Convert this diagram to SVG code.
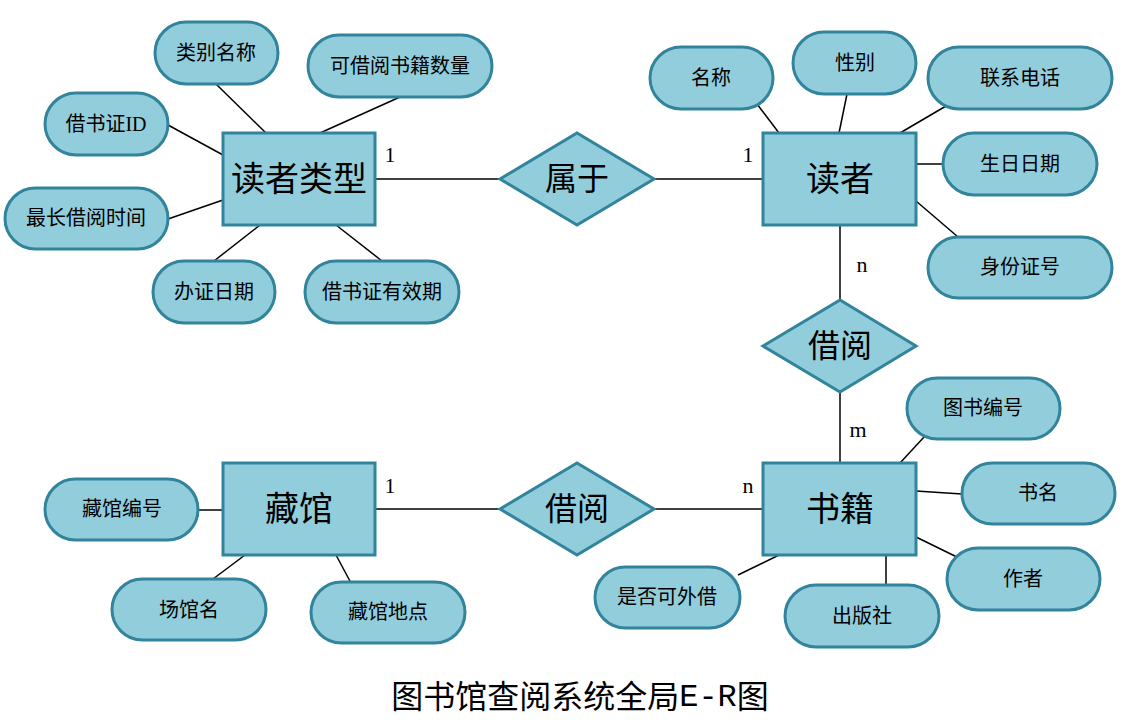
<svg xmlns="http://www.w3.org/2000/svg" width="1139" height="720" viewBox="0 0 1139 720">
<style>
.ent{fill:#92CDDC;stroke:#31849B;stroke-width:3}
.rel{fill:#92CDDC;stroke:#31849B;stroke-width:3}
.att{fill:#92CDDC;stroke:#31849B;stroke-width:3}
.ln{stroke:#000;stroke-width:1.5;fill:none}
text{font-family:"Liberation Serif","Noto Sans CJK SC",serif;fill:#000;text-anchor:middle;dominant-baseline:central}
.t-ent{font-size:34px}
.t-rel{font-size:32px}
.t-att{font-size:20px}
.t-card{font-size:22px}
.t-title{font-size:32px}
.mono{font-family:"Liberation Mono","Noto Sans CJK SC",monospace}
</style>
<rect width="1139" height="720" fill="#fff"/>
<g id="connectors">
<line class="ln" x1="375" y1="179" x2="500" y2="179"/>
<line class="ln" x1="654" y1="179" x2="763" y2="179"/>
<line class="ln" x1="840" y1="225" x2="840" y2="300"/>
<line class="ln" x1="840" y1="392" x2="840" y2="463"/>
<line class="ln" x1="375" y1="509" x2="500" y2="509"/>
<line class="ln" x1="654" y1="509" x2="763" y2="509"/>
<line class="ln" x1="216" y1="84" x2="266" y2="133"/>
<line class="ln" x1="400" y1="97" x2="320" y2="133"/>
<line class="ln" x1="168" y1="125" x2="223" y2="155"/>
<line class="ln" x1="168" y1="219" x2="223" y2="200"/>
<line class="ln" x1="214" y1="261" x2="260" y2="225"/>
<line class="ln" x1="382" y1="261" x2="336" y2="225"/>
<line class="ln" x1="757" y1="104" x2="779" y2="133"/>
<line class="ln" x1="847" y1="94" x2="839" y2="133"/>
<line class="ln" x1="946" y1="106" x2="900" y2="133"/>
<line class="ln" x1="943" y1="164" x2="916" y2="164"/>
<line class="ln" x1="958" y1="237" x2="916" y2="201"/>
<line class="ln" x1="198" y1="510" x2="223" y2="510"/>
<line class="ln" x1="213" y1="579" x2="245" y2="555"/>
<line class="ln" x1="351" y1="583" x2="336" y2="555"/>
<line class="ln" x1="925" y1="436" x2="900" y2="463"/>
<line class="ln" x1="916" y1="491" x2="962" y2="494"/>
<line class="ln" x1="916" y1="537" x2="963" y2="560"/>
<line class="ln" x1="886" y1="555" x2="886" y2="585"/>
<line class="ln" x1="779" y1="555" x2="738" y2="575"/>
<text class="t-card" x="390" y="154">1</text>
<text class="t-card" x="748" y="154">1</text>
<text class="t-card" x="862" y="264">n</text>
<text class="t-card" x="858" y="429">m</text>
<text class="t-card" x="390" y="485">1</text>
<text class="t-card" x="748" y="485">n</text>
</g>
<g id="e-readertype"><rect class="ent" x="223" y="133" width="152" height="92"/><text class="t-ent" x="299" y="179">读者类型</text></g>
<g id="e-reader"><rect class="ent" x="763" y="133" width="153" height="92"/><text class="t-ent" x="840" y="179">读者</text></g>
<g id="e-book"><rect class="ent" x="763" y="463" width="153" height="92"/><text class="t-ent" x="840" y="509">书籍</text></g>
<g id="e-library"><rect class="ent" x="223" y="463" width="152" height="92"/><text class="t-ent" x="299" y="509">藏馆</text></g>
<g id="r-belong"><polygon class="rel" points="500,179 577,133 654,179 577,225"/><text class="t-rel" x="577" y="179">属于</text></g>
<g id="r-borrow1"><polygon class="rel" points="763,346 840,300 916,346 840,392"/><text class="t-rel" x="840" y="346">借阅</text></g>
<g id="r-borrow2"><polygon class="rel" points="500,509 577,463 654,509 577,555"/><text class="t-rel" x="577" y="509">借阅</text></g>
<g id="a-lbmc"><rect class="att" x="155" y="22" width="123" height="62" rx="31"/><text class="t-att" x="216" y="53">类别名称</text></g>
<g id="a-kjysl"><rect class="att" x="308" y="35" width="184" height="62" rx="31"/><text class="t-att" x="400" y="66">可借阅书籍数量</text></g>
<g id="a-jszid"><rect class="att" x="45" y="93" width="123" height="62" rx="31"/><text class="t-att" x="106" y="124">借书证ID</text></g>
<g id="a-zcjy"><rect class="att" x="5" y="188" width="163" height="61" rx="30.5"/><text class="t-att" x="86" y="218">最长借阅时间</text></g>
<g id="a-bzrq"><rect class="att" x="153" y="261" width="122" height="62" rx="31"/><text class="t-att" x="214" y="292">办证日期</text></g>
<g id="a-yxq"><rect class="att" x="305" y="261" width="154" height="62" rx="31"/><text class="t-att" x="382" y="292">借书证有效期</text></g>
<g id="a-mc"><rect class="att" x="650" y="47" width="123" height="62" rx="31"/><text class="t-att" x="711" y="78">名称</text></g>
<g id="a-xb"><rect class="att" x="793" y="32" width="123" height="62" rx="31"/><text class="t-att" x="855" y="63">性别</text></g>
<g id="a-lxdh"><rect class="att" x="928" y="47" width="184" height="62" rx="31"/><text class="t-att" x="1020" y="78">联系电话</text></g>
<g id="a-srrq"><rect class="att" x="943" y="133" width="154" height="62" rx="31"/><text class="t-att" x="1020" y="164">生日日期</text></g>
<g id="a-sfzh"><rect class="att" x="928" y="237" width="184" height="61" rx="30.5"/><text class="t-att" x="1020" y="267">身份证号</text></g>
<g id="a-cgbh"><rect class="att" x="45" y="479" width="153" height="61" rx="30.5"/><text class="t-att" x="122" y="509">藏馆编号</text></g>
<g id="a-cgm"><rect class="att" x="112" y="579" width="154" height="61" rx="30.5"/><text class="t-att" x="189" y="610">场馆名</text></g>
<g id="a-cgdd"><rect class="att" x="311" y="582" width="154" height="61" rx="30.5"/><text class="t-att" x="388" y="612">藏馆地点</text></g>
<g id="a-tsbh"><rect class="att" x="907" y="378" width="153" height="61" rx="30.5"/><text class="t-att" x="983" y="408">图书编号</text></g>
<g id="a-sm"><rect class="att" x="962" y="463" width="153" height="61" rx="30.5"/><text class="t-att" x="1038" y="493">书名</text></g>
<g id="a-zz"><rect class="att" x="947" y="548" width="153" height="62" rx="31"/><text class="t-att" x="1023" y="579">作者</text></g>
<g id="a-cbs"><rect class="att" x="785" y="585" width="154" height="62" rx="31"/><text class="t-att" x="862" y="616">出版社</text></g>
<g id="a-sfkwj"><rect class="att" x="595" y="567" width="145" height="61" rx="30.5"/><text class="t-att" x="667" y="597">是否可外借</text></g>
<text class="t-title" x="580" y="697">图书馆查阅系统全局<tspan class="mono">E-R</tspan>图</text>
</svg>
